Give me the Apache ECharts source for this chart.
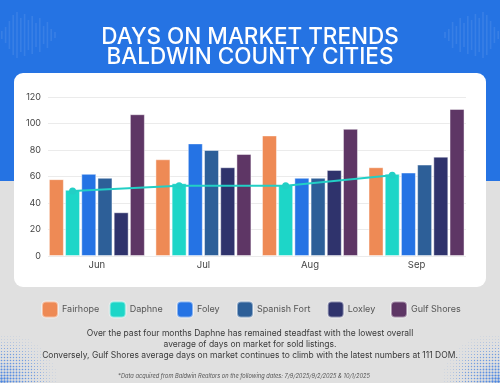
<!DOCTYPE html>
<html>
<head>
<meta charset="utf-8">
<script src="https://cdn.jsdelivr.net/npm/echarts@6/dist/echarts.min.js"></script>
<style>
html,body{margin:0;padding:0;background:#e0e0e0;}
#c{width:500px;height:383px;}
</style>
</head>
<body>
<div id="c"></div>
<script>
// ---- data ----
const months = ['Jun', 'Jul', 'Aug', 'Sep'];
const cities = ['Fairhope', 'Daphne', 'Foley', 'Spanish Fort', 'Loxley', 'Gulf Shores'];
const fairhope = [58, 73, 91, 67];
const daphne = [50, 55, 54, 62];
const foley = [62, 85, 59, 63];
const spanishFort = [59, 80, 59, 69];
const loxley = [33, 67, 65, 75];
const gulfShores = [107, 77, 96, 111];
const daphneTrend = [49, 53, 53, 61];
const yTicks = [0, 20, 40, 60, 80, 100, 120];
const titleLines = ['DAYS ON MARKET TRENDS', 'BALDWIN COUNTY CITIES'];
const bodyLines = [
  'Over the past four months Daphne has remained steadfast with the lowest overall',
  'average of days on market for sold listings.',
  'Conversely, Gulf Shores average days on market continues to climb with the latest numbers at 111 DOM.'
];
const footnote = '*Data acquired from Baldwin Realtors on the following dates: 7/9/2025/9/2/2025 & 10/1/2025';

// ---- styles ----
const colors = ['#EE8A55', '#1DD6C8', '#2573E4', '#2D5F98', '#2F336C', '#5E3665'];
const seriesValues = [fairhope, daphne, foley, spanishFort, loxley, gulfShores];
const FONT = 'Inter, "Open Sans", sans-serif';
const waveHeights = [8, 16, 28, 40, 46, 34, 42, 30, 38, 24, 34, 18, 26, 12, 6];

const chart = echarts.init(document.getElementById('c'), null, {renderer: 'canvas'});

const graphics = [];
// blue header band
graphics.push({type: 'rect', z: -10, shape: {x: 0, y: 0, width: 500, height: 181}, style: {fill: '#2573E3'}});
// halftone corner dots
function halftone(cornerX, dir) {
  for (let gx = 0; gx < 70; gx += 3) {
    for (let gy = 0; gy < 60; gy += 3) {
      const d = Math.sqrt((gx / 70) * (gx / 70) + (gy / 60) * (gy / 60));
      const r = 1.25 * (1 - d);
      if (r > 0.25) {
        graphics.push({type: 'circle', z: -9, silent: true,
          shape: {cx: cornerX + dir * (gx + 1.5), cy: 383 - gy - 1.5, r: r},
          style: {fill: 'rgba(45,115,225,' + (0.35 + 0.5 * (1 - d)).toFixed(2) + ')'}});
      }
    }
  }
}
halftone(0, 1);
halftone(500, -1);
// sound wave decorations
waveHeights.forEach((h, i) => {
  graphics.push({type: 'rect', z: -8, silent: true, shape: {x: 1 + i * 3.8, y: 35 - h / 2, width: 1.6, height: h}, style: {fill: 'rgba(255,255,255,0.09)'}});
  graphics.push({type: 'rect', z: -8, silent: true, shape: {x: 497.4 - i * 3.8, y: 35 - h / 2, width: 1.6, height: h}, style: {fill: 'rgba(255,255,255,0.09)'}});
});
// white panel
graphics.push({type: 'rect', z: -5, shape: {x: 14, y: 73, width: 472, height: 214, r: 9}, style: {fill: '#ffffff'}});
// title
titleLines.forEach((t, i) => {
  graphics.push({type: 'text', z: 5, x: 250, y: 37 + i * 20.5,
    style: {text: t, fill: '#ffffff', font: '500 22.5px ' + FONT, textAlign: 'center', textVerticalAlign: 'middle'}});
});
// body text
bodyLines.forEach((t, i) => {
  graphics.push({type: 'text', z: 5, x: 250, y: 333.5 + i * 11.2,
    style: {text: t, fill: '#3a3a3a', font: '8.5px ' + FONT, textAlign: 'center', textVerticalAlign: 'middle'}});
});
graphics.push({type: 'text', z: 5, x: 244, y: 376,
  style: {text: footnote, fill: '#555555', font: 'italic 5.7px ' + FONT, textAlign: 'center', textVerticalAlign: 'middle'}});

// legends (one per item to match spacing)
const legendLeft = [41, 108.7, 176, 236, 326.7, 390];
const legends = cities.map((c, i) => ({
  data: [c], left: legendLeft[i], top: 300.5, padding: 0,
  itemWidth: 16, itemHeight: 16, itemGap: 4,
  icon: 'roundRect',
  textStyle: {color: '#555555', fontSize: 9, fontFamily: FONT, padding: [0, 0, 0, -1]}
}));

// grids: 0 = gridlines/y labels, 1 = bars, 2 = trend line aligned on Daphne bars
const barW = 15;
const gapPct = 8;
const groupW = 6 * barW + 5 * barW * gapPct / 100;
const daphneOffset = groupW / 2 - (barW + barW * gapPct / 100 + barW / 2);
const g1Left = 43.6, g1Right = 30.2;

const series = cities.map((c, i) => ({
  name: c, type: 'bar', xAxisIndex: 1, yAxisIndex: 1,
  data: seriesValues[i], barWidth: barW, barGap: gapPct + '%',
  itemStyle: {color: colors[i], borderColor: 'rgba(255,255,255,0.45)', borderWidth: 1},
  emphasis: {disabled: true}
}));
series.push({
  name: 'Daphne trend', type: 'line', xAxisIndex: 2, yAxisIndex: 2,
  data: daphneTrend, symbol: 'circle', symbolSize: 7, showSymbol: true,
  lineStyle: {color: '#22CFC5', width: 2},
  itemStyle: {color: '#22CFC5'}, z: 10
});

const hiddenY = {type: 'value', min: 0, max: 120, interval: 20, show: false};

chart.setOption({
  animation: false,
  backgroundColor: '#e0e0e0',
  graphic: graphics,
  legend: legends,
  grid: [
    {left: 48, right: 34, top: 97, bottom: 127},
    {left: g1Left, right: g1Right, top: 97, bottom: 127},
    {left: g1Left - daphneOffset, right: g1Right + daphneOffset, top: 97, bottom: 127}
  ],
  xAxis: [
    {type: 'category', gridIndex: 0, data: months, show: false},
    {type: 'category', gridIndex: 1, data: months,
      axisLine: {show: false}, axisTick: {show: false},
      axisLabel: {color: '#444444', fontSize: 9.5, fontFamily: FONT, margin: 4}},
    {type: 'category', gridIndex: 2, data: months, show: false}
  ],
  yAxis: [
    {type: 'value', gridIndex: 0, min: yTicks[0], max: yTicks[yTicks.length - 1], interval: yTicks[1] - yTicks[0],
      axisLine: {show: false}, axisTick: {show: false},
      axisLabel: {color: '#444444', fontSize: 9, fontFamily: FONT, margin: 7},
      splitLine: {lineStyle: {color: '#EBEBEB', width: 1}}},
    Object.assign({gridIndex: 1}, hiddenY),
    Object.assign({gridIndex: 2}, hiddenY)
  ],
  series: series
});
</script>
</body>
</html>
